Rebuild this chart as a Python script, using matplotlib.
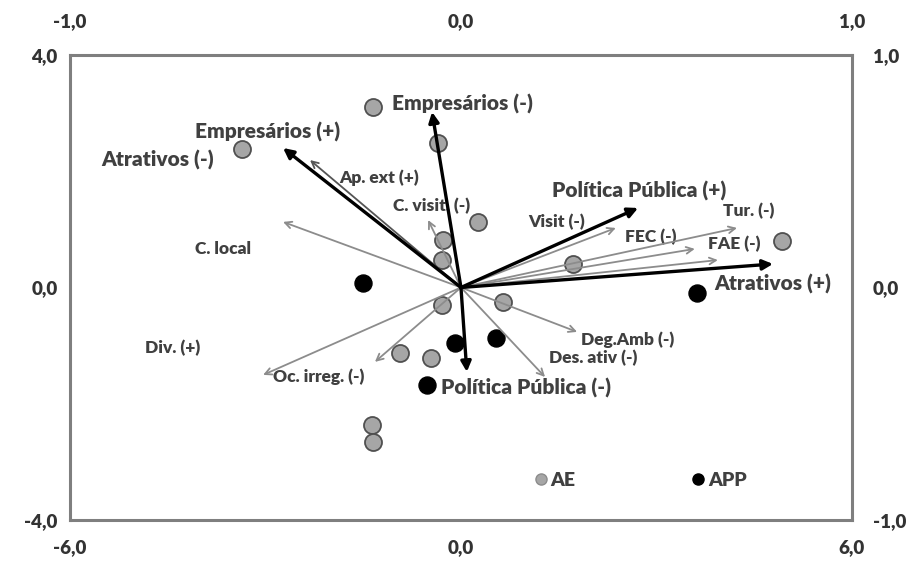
import matplotlib.pyplot as plt
from matplotlib.lines import Line2D

plt.rcParams['font.family'] = ['Lato', 'DejaVu Sans']
plt.rcParams['font.weight'] = 'heavy'

# scores (bottom/left axes, -6..6 / -4..4)
ae_x = [-1.35, -3.36, -0.35, 0.26, -0.28, -0.29, 1.72, 4.93, -0.29, 0.64, -0.94, -0.46, -1.37, -1.35]
ae_y = [3.10, 2.38, 2.49, 1.13, 0.82, 0.47, 0.40, 0.80, -0.30, -0.25, -1.13, -1.21, -2.37, -2.66]
app_x = [-1.50, 3.62, -0.09, 0.54, -0.52]
app_y = [0.08, -0.10, -0.95, -0.87, -1.68]

# loadings (top/right axes, -1..1)
main_names = ['Empresários (-)', 'Empresários (+)', 'Política Pública (+)', 'Atrativos (+)', 'Política Pública (-)']
main_x = [-0.074, -0.455, 0.453, 0.798, 0.015]
main_y = [0.755, 0.600, 0.342, 0.101, -0.363]

var_names = ['Ap. ext (+)', 'C. local', 'C. visit. (-)', 'Visit (-)', 'FEC (-)', 'Tur. (-)', 'FAE (-)',
             'Deg.Amb (-)', 'Des. ativ (-)', 'Oc. irreg. (-)', 'Div. (+)']
var_x = [-0.386, -0.455, -0.084, 0.396, 0.598, 0.706, 0.657, 0.297, 0.215, -0.220, -0.506]
var_y = [0.548, 0.282, 0.290, 0.256, 0.166, 0.256, 0.118, -0.191, -0.385, -0.320, -0.376]
var_color = ['#555555'] + ['#8c8c8c'] * 10

# label positions (score axes coords) and sizes
labels = ['Empresários (-)', 'Empresários (+)', 'Atrativos (-)', 'Ap. ext (+)', 'C. visit. (-)', 'C. local',
          'Política Pública (+)', 'Tur. (-)', 'Visit (-)', 'FEC (-)', 'FAE (-)', 'Atrativos (+)',
          'Deg.Amb (-)', 'Des. ativ (-)', 'Div. (+)', 'Oc. irreg. (-)', 'Política Pública (-)']
label_x = [-1.06, -4.08, -5.52, -1.87, -1.04, -4.08, 1.40, 4.02, 1.03, 2.52, 3.79, 3.88, 1.84, 1.35, -4.85, -2.88, -0.31]
label_y = [3.16, 2.68, 2.20, 1.89, 1.40, 0.66, 1.66, 1.32, 1.13, 0.87, 0.75, 0.06, -0.90, -1.21, -1.04, -1.54, -1.73]
label_big = [True, True, True, False, False, False, True, False, False, False, False, True,
             False, False, False, False, True]

fig = plt.figure(figsize=(9.11, 5.61), dpi=100)
ax = fig.add_axes([0.0768, 0.0731, 0.8584, 0.8289])
ax.set_xlim(-6, 6)
ax.set_ylim(-4, 4)
ax.set_xticks([-6, 0, 6])
ax.set_xticklabels(['-6,0', '0,0', '6,0'])
ax.set_yticks([-4, 0, 4])
ax.set_yticklabels(['-4,0', '0,0', '4,0'])
ax.tick_params(axis='x', length=0, pad=14, labelsize=13.5, labelcolor='#333333')
ax.tick_params(axis='y', length=0, pad=9, labelsize=13.5, labelcolor='#333333')
for s in ax.spines.values():
    s.set_color('#7f7f7f')
    s.set_linewidth(2.2)

ax2 = fig.add_axes(ax.get_position(), frameon=False)
ax2.set_xlim(-1, 1)
ax2.set_ylim(-1, 1)
ax2.xaxis.tick_top()
ax2.yaxis.tick_right()
ax2.set_xticks([-1, 0, 1])
ax2.set_xticklabels(['-1,0', '0,0', '1,0'])
ax2.set_yticks([-1, 0, 1])
ax2.set_yticklabels(['-1,0', '0,0', '1,0'])
ax2.tick_params(axis='x', length=0, pad=18, labelsize=13.5, labelcolor='#333333')
ax2.tick_params(axis='y', length=0, pad=15, labelsize=13.5, labelcolor='#333333')

for x, y, c in zip(var_x, var_y, var_color):
    ax2.annotate('', xy=(x, y), xytext=(0, 0),
                 arrowprops=dict(arrowstyle='->', color=c, lw=1.3, mutation_scale=12,
                                 shrinkA=0, shrinkB=0))
for x, y in zip(main_x, main_y):
    ax2.annotate('', xy=(x, y), xytext=(0, 0),
                 arrowprops=dict(arrowstyle='-|>', color='black', lw=2.4, mutation_scale=15,
                                 shrinkA=0, shrinkB=0))

ax.scatter(ae_x, ae_y, s=150, c='#a6a6a6', edgecolors='#505050', linewidths=1.3, zorder=3)
ax.scatter(app_x, app_y, s=150, c='black', edgecolors='black', linewidths=1, zorder=3)

for t, x, y, big in zip(labels, label_x, label_y, label_big):
    ax.text(x, y, t, fontsize=15 if big else 12.5, color='#404040', ha='left', va='center', zorder=4)

handles = [Line2D([], [], marker='o', ls='', color='#a6a6a6', markeredgecolor='#8c8c8c', markersize=8),
           Line2D([], [], marker='o', ls='', color='black', markersize=8)]
ax.legend(handles, ['AE', 'APP'], ncol=2, frameon=False, loc='center', bbox_to_anchor=(0.73, 0.085),
          handlelength=0.6, handletextpad=0.2, columnspacing=6.0, prop={'size': 14, 'weight': 'heavy'},
          labelcolor='#404040')

fig.savefig('out.png', dpi=100)
